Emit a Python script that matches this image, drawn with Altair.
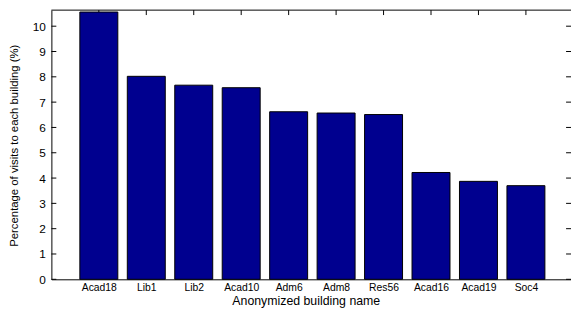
import json
import altair as alt
import pandas as pd

# ---- data ----
names = ["Acad18", "Lib1", "Lib2", "Acad10", "Adm6", "Adm8", "Res56", "Acad16", "Acad19", "Soc4"]
values = [10.56, 8.02, 7.67, 7.57, 6.62, 6.57, 6.51, 4.22, 3.87, 3.70]
y_ticks = [0, 1, 2, 3, 4, 5, 6, 7, 8, 9, 10]

x_title = "Anonymized building name"
y_title = "Percentage of visits to each building (%)"

W = 527
H = 273
BAR_HALF = 0.4
FONT = "Liberation Sans"

idx = list(range(1, len(names) + 1))
bars_df = pd.DataFrame({
    "idx": idx,
    "name": names,
    "value": values,
    "x0": [i - BAR_HALF for i in idx],
    "x1": [i + BAR_HALF for i in idx],
})
yt_df = pd.DataFrame({"t": y_ticks})
xt_df = pd.DataFrame({"idx": idx})

xscale = alt.Scale(domain=[0, 10.95], nice=False, zero=False)
yscale = alt.Scale(domain=[0, 10.635], nice=False, zero=True)

label_expr = json.dumps(names) + "[datum.value - 1]"

x_axis = alt.Axis(values=idx, labelExpr=label_expr, tickSize=0, labelPadding=3,
                  labelOverlap=False, labelFlush=False,
                  domainColor="black", domainWidth=1, grid=False,
                  labelFont=FONT, labelFontSize=10.5, labelColor="black",
                  title=x_title, titleFont=FONT, titleFontSize=12.5,
                  titleFontWeight="normal", titleColor="black",
                  titleBaseline="alphabetic", titleX=258, titleY=26)
y_axis = alt.Axis(values=y_ticks, tickSize=0, labelPadding=6,
                  labelOverlap=False, labelFlush=False,
                  domainColor="black", domainWidth=1, grid=False,
                  labelFont=FONT, labelFontSize=12, labelColor="black",
                  title=y_title, titleFont=FONT, titleFontSize=11.5,
                  titleFontWeight="normal", titleColor="black",
                  titleX=-32, titleY=137)

left_ticks = alt.Chart(yt_df).mark_rule(color="black", strokeWidth=1).encode(
    y=alt.Y("t:Q", scale=yscale, axis=y_axis), x=alt.value(0), x2=alt.value(5)
)
right_ticks = alt.Chart(yt_df).mark_rule(color="black", strokeWidth=1).encode(
    y=alt.Y("t:Q", scale=yscale, axis=y_axis), x=alt.value(W - 5), x2=alt.value(W)
)
top_ticks = alt.Chart(xt_df).mark_rule(color="black", strokeWidth=1).encode(
    x=alt.X("idx:Q", scale=xscale, axis=x_axis), y=alt.value(0), y2=alt.value(5)
)

bars = alt.Chart(bars_df).mark_bar(
    color="#00008F", stroke="black", strokeWidth=1
).encode(
    x=alt.X("x0:Q", scale=xscale, axis=x_axis),
    x2="x1:Q",
    y=alt.Y("value:Q", scale=yscale, axis=y_axis),
    y2=alt.datum(0),
)

top_border = alt.Chart(xt_df.head(1)).mark_rule(color="black", strokeWidth=1).encode(
    x=alt.value(0), x2=alt.value(W), y=alt.value(0)
)

chart = alt.layer(left_ticks, right_ticks, top_ticks, bars, top_border).properties(
    width=W, height=H,
    autosize=alt.AutoSizeParams(type="none"),
    padding={"left": 44, "top": 0, "right": 0, "bottom": 31},
    background="white",
).configure_view(stroke=None)

chart.save("out.html", embed_options={"renderer": "svg", "actions": False})
